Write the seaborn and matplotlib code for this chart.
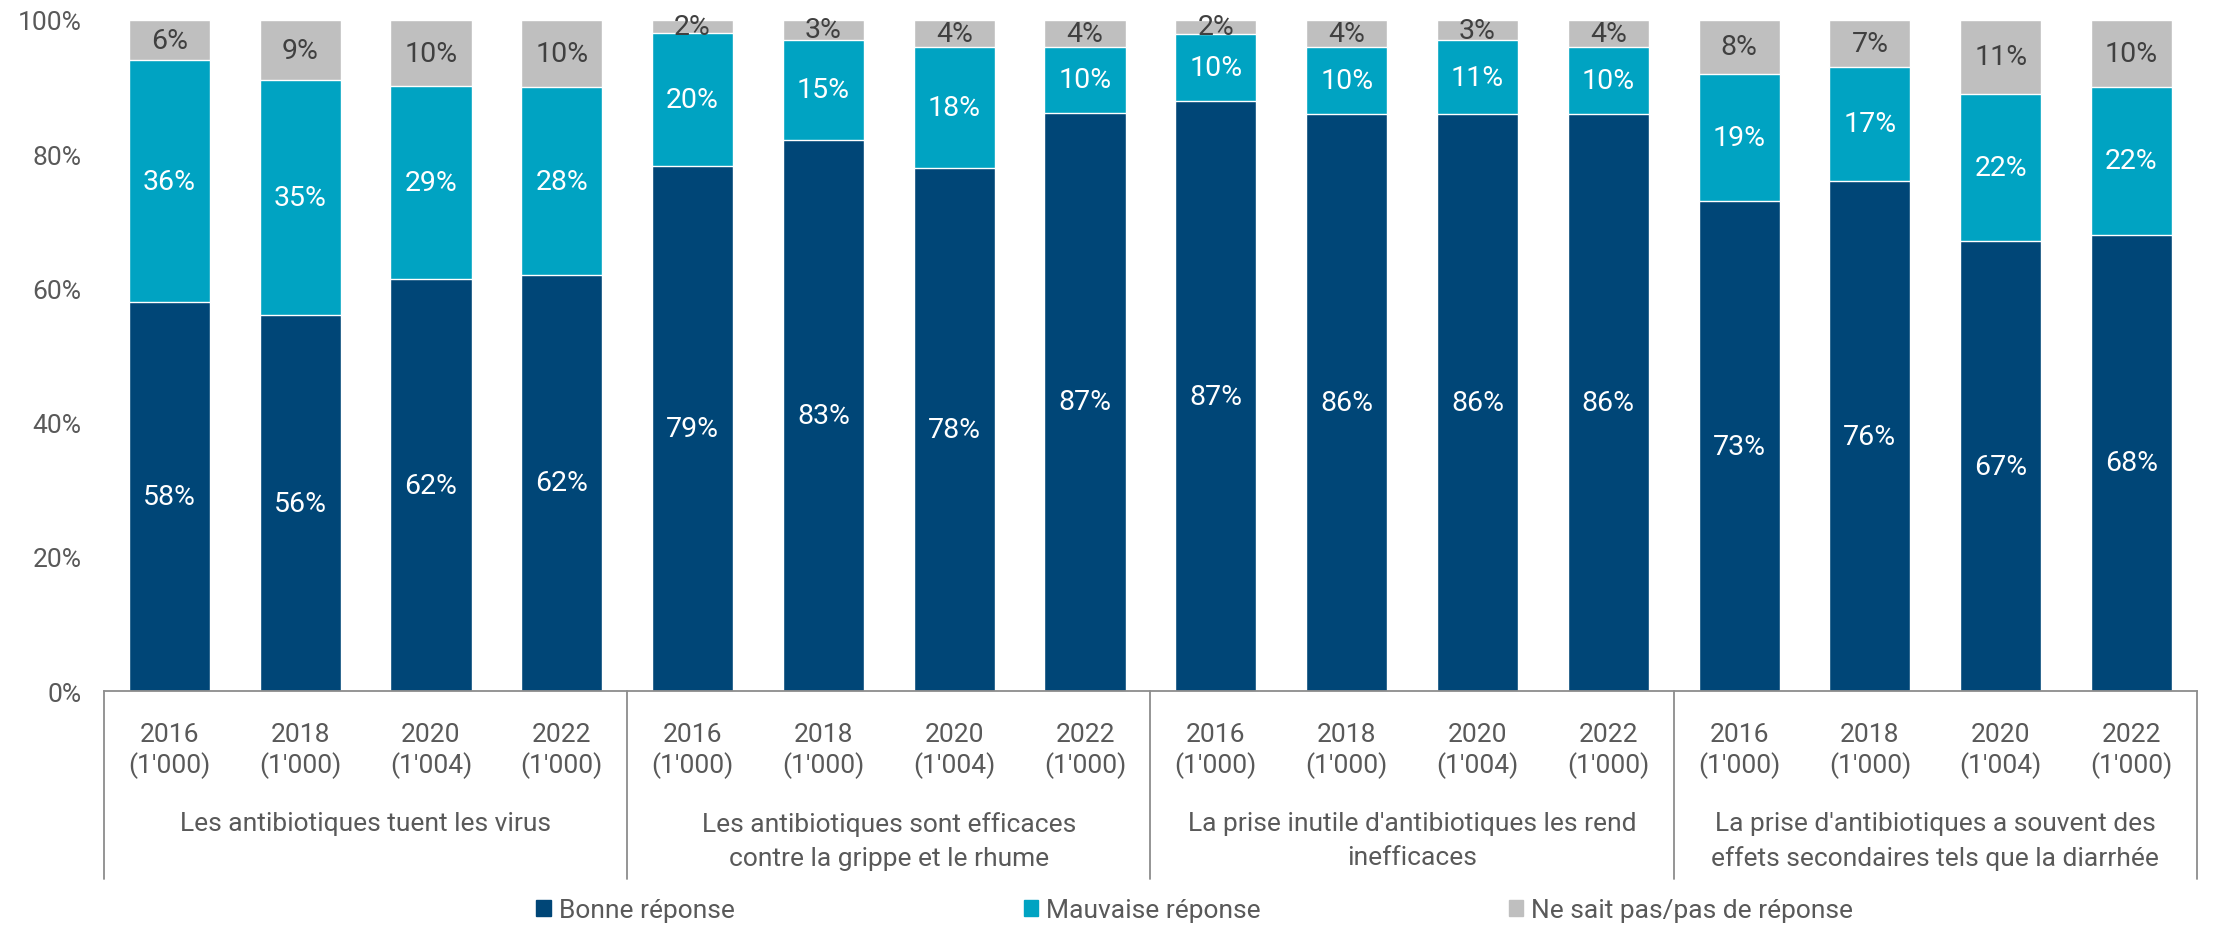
import pandas as pd
import numpy as np
import matplotlib
matplotlib.use("Agg")
import matplotlib.pyplot as plt
import seaborn as sns

sns.set_style("white")
plt.rcParams['font.family'] = ['Roboto', 'DejaVu Sans']

# Data
questions = [
    "Les antibiotiques tuent les virus",
    "Les antibiotiques sont efficaces\ncontre la grippe et le rhume",
    "La prise inutile d'antibiotiques les rend\ninefficaces",
    "La prise d'antibiotiques a souvent des\neffets secondaires tels que la diarrhée",
]
years = ["2016", "2018", "2020", "2022"]
sample_sizes = ["1'000", "1'000", "1'004", "1'000"]

good = [58, 56, 62, 62, 79, 83, 78, 87, 87, 86, 86, 86, 73, 76, 67, 68]
bad = [36, 35, 29, 28, 20, 15, 18, 10, 10, 10, 11, 10, 19, 17, 22, 22]
dont_know = [6, 9, 10, 10, 2, 3, 4, 4, 2, 4, 3, 4, 8, 7, 11, 10]

series_names = ["Bonne réponse", "Mauvaise réponse", "Ne sait pas/pas de réponse"]
colors = ["#004677", "#00A3C2", "#BFBFBF"]
label_colors = ["white", "white", "#404040"]
TEXT = "#595959"
FS = 19

n = len(good)
df = pd.DataFrame({
    "bar": [str(i) for i in range(n)],
    "good": good, "bad": bad, "dk": dont_know,
})
# 100% stacked: scale each bar to its total
total = df["good"] + df["bad"] + df["dk"]
df["top_good"] = df["good"] / total * 100
df["top_bad"] = (df["good"] + df["bad"]) / total * 100
df["top_dk"] = 100.0

fig = plt.figure(figsize=(22.25, 9.28), dpi=100)
ax = fig.add_axes([0.0467, 0.2543, 0.9407, 0.7231])

order = df["bar"].tolist()
for col, c in [("top_dk", colors[2]), ("top_bad", colors[1]), ("top_good", colors[0])]:
    sns.barplot(data=df, x="bar", y=col, order=order, color=c, saturation=1,
                width=0.62, ax=ax, errorbar=None)

# value labels
for i, row in df.iterrows():
    segs = [(0, row["top_good"], row["good"]),
            (row["top_good"], row["top_bad"], row["bad"]),
            (row["top_bad"], row["top_dk"], row["dk"])]
    for k, (lo, hi, v) in enumerate(segs):
        ax.text(i, (lo + hi) / 2, f"{v}%", ha="center", va="center",
                fontsize=20.5, color=label_colors[k])

ax.set_xlim(-0.5, n - 0.5)
ax.set_ylim(0, 100)
ax.set_yticks(np.arange(0, 101, 20))
ax.set_yticklabels([f"{t}%" for t in range(0, 101, 20)])
ax.set_xticks(range(n))
ax.set_xticklabels([f"{years[i % 4]}\n({sample_sizes[i % 4]})" for i in range(n)],
                   linespacing=1.25)
ax.tick_params(axis="x", length=0, pad=22, labelsize=FS, labelcolor=TEXT)
ax.tick_params(axis="y", length=0, pad=16, labelsize=FS, labelcolor=TEXT)
ax.set_xlabel("")
ax.set_ylabel("")
for s in ["left", "right", "top"]:
    ax.spines[s].set_visible(False)
ax.spines["bottom"].set_color("#8C8C8C")
ax.spines["bottom"].set_linewidth(1.3)

# group separators and group labels
trans = ax.get_xaxis_transform()
for b in [-0.5, 3.5, 7.5, 11.5, 15.5]:
    ax.plot([b, b], [0, -0.28], transform=trans, color="#8C8C8C", lw=1.3,
            clip_on=False)
for g, q in enumerate(questions):
    ax.text(g * 4 + 1.5, -0.179, q, transform=trans, ha="center", va="top",
            fontsize=FS, color=TEXT, linespacing=1.5)

# legend entries placed like the original
legend_x = [0.241, 0.460, 0.678]
for name, c, x in zip(series_names, colors, legend_x):
    h = plt.Rectangle((0, 0), 1, 1, color=c)
    fig.legend([h], [name], loc="center left", bbox_to_anchor=(x, 0.018),
               frameon=False, fontsize=FS, labelcolor=TEXT, borderpad=0,
               borderaxespad=0, handlelength=0.55, handleheight=0.55,
               handletextpad=0.3)

fig.savefig("out.png", dpi=100)
